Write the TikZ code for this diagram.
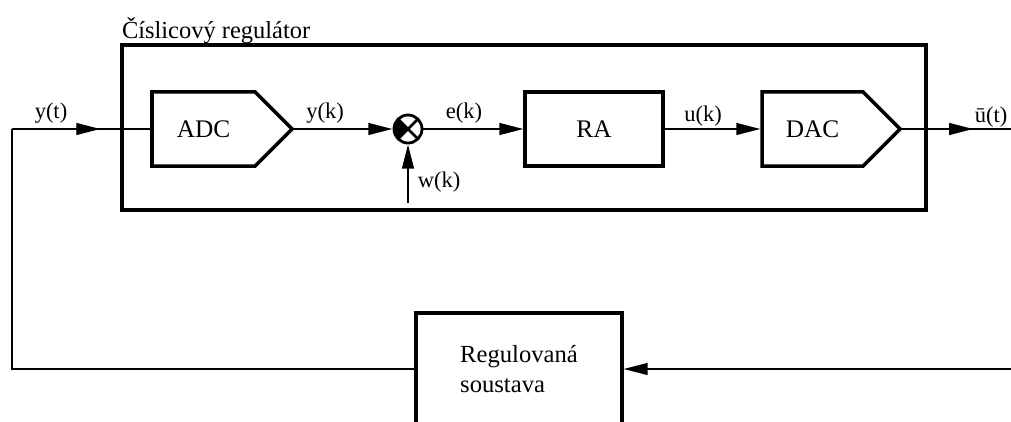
\documentclass[tikz,border=0pt]{standalone}
\usepackage{fontspec}
\setmainfont{Liberation Serif}
\usetikzlibrary{arrows.meta,shapes.symbols,decorations.markings}

\begin{document}
\begin{tikzpicture}[
  x=0.025cm, y=-0.025cm,
  every node/.style={font=\fontsize{16}{19}\selectfont, inner sep=0pt, outer sep=0pt},
  frame/.style={draw, line width=2.8pt, minimum width=20.1cm, minimum height=4.125cm},
  conv/.style={draw, line width=2.5pt, shape=signal, signal to=east,
               signal pointer angle=90, minimum height=1.85cm, anchor=west,
               font=\fontsize{18}{21}\selectfont},
  block/.style={draw, line width=2.5pt, minimum height=1.85cm,
                font=\fontsize{18}{21}\selectfont},
  junction/.style={draw, circle, line width=2pt, minimum size=0.7cm},
  wire/.style={line width=0.9pt},
  arrow/.style={wire, -{Triangle[length=17pt, width=8.5pt]}, shorten >=1.2pt},
  midarrow/.style={wire, postaction={decorate},
                   decoration={markings, mark=at position #1 with
                   {\arrow{Triangle[length=17pt, width=8.5pt]}}}}
]
\path[use as bounding box, clip] (0,0) rectangle (1011,421);
% regulator frame and blocks
\node[frame] (regulator) at (524,127.5) {};
\node[anchor=west, font=\fontsize{17.4}{21}\selectfont] (title) at (122,31) {Číslicový regulátor};
\node[conv, minimum width=3.5cm] (adc) at (152,129) {ADC};
\node[junction] (sum) at (408,129) {};
\node[block, minimum width=3.45cm] (ra) at (594,129) {RA};
\node[conv, minimum width=3.45cm] (dac) at (762,129) {DAC};
\node[block, line width=3pt, minimum width=5.15cm, minimum height=2.8cm,
      align=left, font=\fontsize{17.5}{21}\selectfont] (plant) at (519,369) {Regulovaná\\soustava};
% summing junction
\fill (sum.center) -- (sum.135) arc[start angle=135, end angle=225, radius=0.35cm] -- cycle;
\draw[line width=2pt] (sum.45) -- (sum.225) (sum.135) -- (sum.315);
% corners of the loop
\coordinate (ytl) at (12,129);
\coordinate (ybl) at (12,369);
\coordinate (uright) at (1015,129);
\coordinate (bright) at (1015,369);
\coordinate (wsrc) at (408,203);
% signals
\draw[wire] (plant.west) -- (ybl) -- (ytl);
\draw[midarrow=0.63] (ytl) -- (adc.west);
\draw[arrow] (adc.east) -- (sum.west);
\draw[arrow] (wsrc) -- (sum.south);
\draw[arrow] (sum.east) -- (ra.west);
\draw[arrow] (ra.east) -- (dac.west);
\draw[midarrow=0.635] (dac.east) -- (uright);
\draw[arrow] (bright) -- (plant.east);
% labels
\node (ytlabel) at (51,113) {y(t)};
\node (yklabel) at (325,113) {y(k)};
\node (eklabel) at (464,113) {e(k)};
\node (wklabel) at (439,182) {w(k)};
\node (uklabel) at (703,116) {u(k)};
\node (utlabel) at (991,117) {ū(t)};
\end{tikzpicture}
\end{document}
